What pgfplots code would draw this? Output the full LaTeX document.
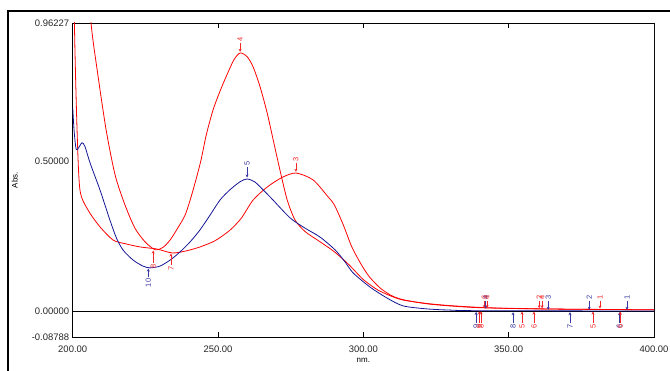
\documentclass[border=0pt]{standalone}
\usepackage{fontspec}
\setmainfont{Liberation Sans}
\usepackage{pgfplots}
\pgfplotsset{compat=1.18}
\usetikzlibrary{arrows.meta}
\definecolor{rd}{RGB}{255,0,0}
\definecolor{bl}{RGB}{20,20,150}
\definecolor{rdl}{RGB}{245,40,40}
\definecolor{bll}{RGB}{55,55,165}
% peak pick: arrow down from label to curve
\newcommand{\pku}[5]{%
\addplot[#1, line width=0.6pt, -{Stealth[length=3bp,width=3bp]}, forget plot]
 coordinates {(#2,#3) (#2,#4)} node[pos=0, anchor=west, rotate=90, inner sep=1pt,
 font=\fontsize{7.5}{8}\selectfont, text=#1] {#5};}
% valley pick: arrow up from label to curve
\newcommand{\pkd}[5]{%
\addplot[#1, line width=0.6pt, -{Stealth[length=3bp,width=3bp]}, forget plot]
 coordinates {(#2,#3) (#2,#4)} node[pos=0, anchor=east, rotate=90, inner sep=1pt,
 font=\fontsize{7.5}{8}\selectfont, text=#1] {#5};}
\begin{document}
\begin{tikzpicture}
\useasboundingbox (0bp,0bp) rectangle (670bp,371bp);
\draw[line width=2.2bp] (8bp,0bp) -- (8bp,360bp) -- (670bp,360bp);
\begin{axis}[
 at={(72.7bp,33.7bp)}, anchor=south west, scale only axis,
 width=581.3bp, height=314.3bp,
 xmin=200, xmax=400, ymin=-0.08788, ymax=0.96227,
 xtick={200,250,300,350,400},
 xticklabels={200.00,250.00,300.00,350.00,400.00},
 ytick={-0.08788,0,0.5,0.96227},
 yticklabels={-0.08788,0.00000,0.50000,0.96227},
 tick label style={font=\fontsize{9.5}{11}\selectfont, text=black!85},
 x tick label style={yshift=-5bp},
 tick align=inside, major tick length=5bp,
 ytick style={draw=none},
 xtick style={black, line width=0.6pt},
 axis line style={black, line width=0.9pt},
 xlabel={nm.}, ylabel={Abs.},
 xlabel style={font=\fontsize{8}{9}\selectfont, at={(axis description cs:0.5,-0.0732)}, anchor=center},
 ylabel style={font=\fontsize{8}{9}\selectfont, at={(axis description cs:-0.0998,0.5)}, anchor=center},
 clip=true,
]
\addplot[black, line width=0.6pt, forget plot] coordinates {(200,0) (400,0)};
% curve A (red, peak 257.6)
\addplot[rd, line width=0.8pt, smooth, tension=0.45] coordinates {
(200,2.2) (202,1.6) (204,1.25) (206.3,0.962) (208.5,0.80) (211.5,0.605)
(214.6,0.454) (218.0,0.354) (221.4,0.277) (224.9,0.231) (228.3,0.205)
(231,0.212) (233.5,0.237) (236,0.275) (238.7,0.321) (241,0.39) (243.9,0.494)
(246,0.59) (248.3,0.672) (250.7,0.735) (253.1,0.790) (255.5,0.840) (257.6,0.862)
(260,0.850) (262.1,0.815) (264.5,0.748) (266.9,0.662) (269.0,0.571) (271.3,0.471)
(273.8,0.371) (276.5,0.304) (280,0.265) (285,0.232) (290,0.198) (295,0.155)
(300,0.105) (305,0.07) (310,0.048) (314,0.036) (321.9,0.025) (329.8,0.018)
(340,0.012) (350,0.009) (370,0.006) (400,0.004)};
% curve B (red, peak 276.8)
\addplot[rd, line width=0.8pt, smooth, tension=0.45] coordinates {
(200,1.5) (200.6,0.96) (201.5,0.605) (202.5,0.404) (205.3,0.337) (209.4,0.281)
(213.9,0.237) (218,0.225) (223.2,0.214) (229,0.207) (234.2,0.194) (238.7,0.200)
(243.8,0.214) (249,0.235) (254.1,0.270) (258,0.31) (262.1,0.371) (266.9,0.414)
(272,0.446) (276.8,0.461) (282.7,0.438) (287.9,0.381) (290,0.355) (293,0.29)
(296,0.215) (299,0.16) (302,0.115) (306,0.075) (310,0.05) (314,0.037)
(321.9,0.024) (329.8,0.017) (340,0.011) (360,0.007) (400,0.004)};
% blue curve (peak 260)
\addplot[bl, line width=0.8pt, smooth, tension=0.45] coordinates {
(200,0.68) (200.5,0.60) (201.2,0.54) (202,0.545) (203.2,0.562) (204.2,0.55)
(206,0.494) (209.4,0.404) (212.8,0.304) (215,0.245) (217.3,0.204) (220.8,0.170)
(224.2,0.150) (226.6,0.144) (230,0.150) (233.5,0.170) (236.9,0.197) (240.4,0.231)
(243.8,0.271) (247.3,0.321) (250.7,0.371) (254.1,0.405) (257.6,0.432) (260,0.441)
(262.7,0.431) (266.2,0.398) (268.9,0.371) (274.8,0.311) (279.9,0.277) (285.1,0.247)
(290.3,0.204) (293.7,0.164) (296.5,0.127) (302.3,0.080) (308.2,0.043) (313.7,0.017)
(321.9,0.007) (329.8,0.003) (340,0.001) (400,0.0)};
% picks, main
\pku{rdl}{257.6}{0.895}{0.866}{4}
\pku{bll}{260.0}{0.481}{0.446}{5}
\pku{rdl}{276.8}{0.494}{0.465}{3}
\pkd{rdl}{227.7}{0.160}{0.202}{8}
\pkd{rdl}{233.8}{0.155}{0.192}{7}
\pkd{bll}{226.0}{0.112}{0.142}{10}
% picks, tail peaks
\pku{rdl}{341.6}{0.035}{0.010}{6}
\pku{bll}{342.1}{0.035}{0.008}{4}
\pku{rdl}{342.6}{0.035}{0.010}{4}
\pku{rdl}{360.5}{0.035}{0.009}{2}
\pku{rdl}{361.5}{0.035}{0.009}{4}
\pku{bll}{363.6}{0.035}{0.004}{3}
\pku{bll}{377.7}{0.035}{0.004}{2}
\pku{rdl}{381.4}{0.035}{0.008}{1}
\pku{bll}{390.7}{0.035}{0.004}{1}
% picks, tail valleys
\pkd{bll}{338.8}{-0.040}{-0.003}{9}
\pkd{rdl}{339.9}{-0.040}{-0.001}{9}
\pkd{rdl}{340.5}{-0.040}{-0.001}{8}
\pkd{bll}{351.5}{-0.040}{-0.004}{8}
\pkd{rdl}{354.6}{-0.040}{-0.002}{5}
\pkd{rdl}{358.7}{-0.040}{-0.002}{6}
\pkd{bll}{371.1}{-0.040}{-0.004}{7}
\pkd{rdl}{379.0}{-0.040}{-0.002}{5}
\pkd{bll}{388.1}{-0.040}{-0.004}{6}
\pkd{rdl}{388.4}{-0.040}{-0.002}{6}
\draw[black!60, line width=1bp] (rel axis cs:1,0) -- (rel axis cs:1,1);
\end{axis}
\end{tikzpicture}
\end{document}
